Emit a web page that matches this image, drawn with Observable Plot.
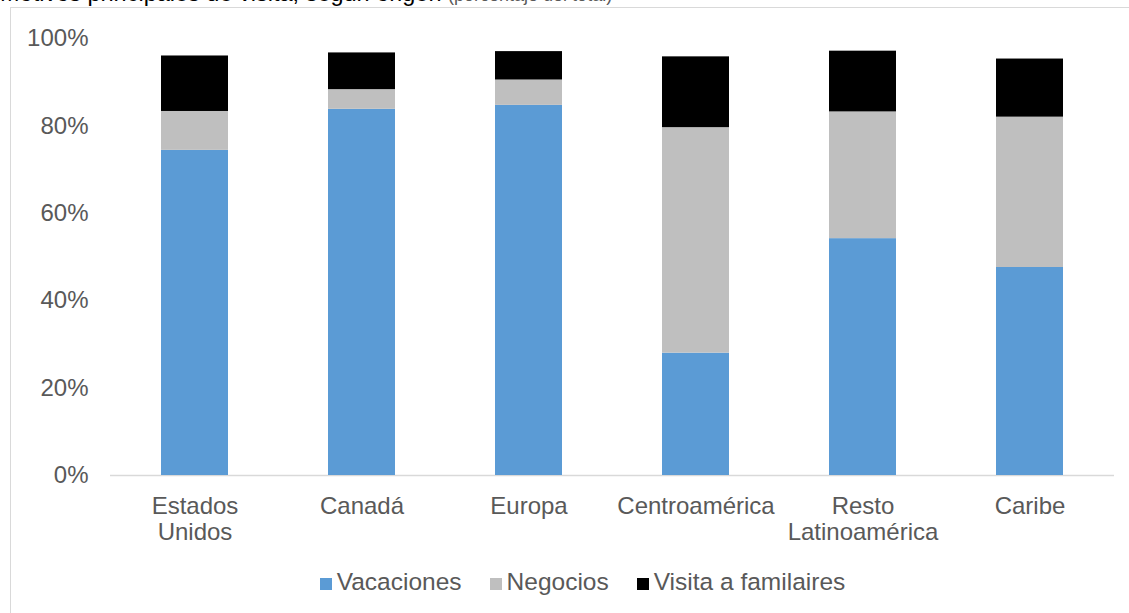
<!DOCTYPE html>
<html>
<head>
<meta charset="utf-8">
<script src="https://cdn.jsdelivr.net/npm/d3@7"></script>
<script src="https://cdn.jsdelivr.net/npm/@observablehq/plot@0.6"></script>
<style>
  html, body { margin: 0; padding: 0; background: #fff; overflow: hidden; }
  #wrap { position: relative; width: 1129px; height: 613px; overflow: hidden; font-family: "Liberation Sans", Arial, sans-serif; }
  #frame { position: absolute; left: 10px; top: 7px; width: 1200px; height: 700px; border: 1px solid #d9d9d9; box-sizing: border-box; }
  #title { position: absolute; left: 0; top: -19px; font-size: 23.5px; line-height: 24px; white-space: nowrap; color: #000; }
  #title span { font-size: 18px; color: #595959; }
  #chart { position: absolute; left: 0; top: 0; }
  #legend { position: absolute; left: 18px; width: 1129px; top: 566px; text-align: center; font-size: 24.5px; color: #595959; white-space: nowrap; }
  #legend .item { display: inline-flex; align-items: center; margin: 0 14px; }
  #legend .sw { width: 12px; height: 12px; display: inline-block; margin-right: 5px; position: relative; top: 2px; }
</style>
</head>
<body>
<div id="wrap">
  <div id="frame"></div>
  <div id="chart"></div>
  <div id="title">Motivos principales de visita, según origen <span>(porcentaje del total)</span></div>
  <div id="legend"></div>
</div>
<script>
const origenes = ["Estados Unidos", "Canadá", "Europa", "Centroamérica", "Resto Latinoamérica", "Caribe"];
const etiquetas = ["Estados\nUnidos", "Canadá", "Europa", "Centroamérica", "Resto\nLatinoamérica", "Caribe"];
const motivos = ["Vacaciones", "Negocios", "Visita a familaires"];
const colores = ["#5b9bd5", "#bfbfbf", "#000000"];
const vacaciones = [74.4, 83.8, 84.7, 28.0, 54.2, 47.6];
const negocios = [8.9, 4.5, 5.8, 51.6, 29.0, 34.4];
const visita = [12.7, 8.4, 6.5, 16.2, 13.9, 13.3];
const yTicks = [0, 20, 40, 60, 80, 100];

const series = [vacaciones, negocios, visita];
const data = [];
motivos.forEach((m, i) => {
  origenes.forEach((o, j) => data.push({origen: o, motivo: m, valor: series[i][j]}));
});
const etiquetaDe = new Map(origenes.map((o, i) => [o, etiquetas[i]]));

const chart = Plot.plot({
  width: 1129,
  height: 613,
  marginLeft: 110,
  marginRight: 15,
  marginTop: 38,
  marginBottom: 138,
  style: {fontFamily: "'Liberation Sans', Arial, sans-serif", fontSize: "24px", color: "#595959", background: "transparent"},
  x: {domain: origenes, paddingInner: 0.6, paddingOuter: 0.3, label: null},
  y: {domain: [0, 100], label: null},
  color: {domain: motivos, range: colores},
  marks: [
    Plot.ruleY([0], {stroke: "#d9d9d9", strokeWidth: 1.5}),
    Plot.barY(data, Plot.stackY({x: "origen", y: "valor", fill: "motivo", order: motivos})),
    Plot.axisY({ticks: yTicks, tickSize: 0, tickPadding: 22, tickFormat: d => d + "%", fill: "#595959", fontSize: 24, label: null}),
    Plot.axisX({tickSize: 0, tickPadding: 20, tickFormat: d => etiquetaDe.get(d), fill: "#595959", fontSize: 24, lineHeight: 1.08, label: null})
  ]
});
document.getElementById("chart").appendChild(chart);

const legend = document.getElementById("legend");
motivos.forEach((m, i) => {
  const item = document.createElement("span");
  item.className = "item";
  const sw = document.createElement("span");
  sw.className = "sw";
  sw.style.background = colores[i];
  item.appendChild(sw);
  item.appendChild(document.createTextNode(m));
  legend.appendChild(item);
});
</script>
</body>
</html>
